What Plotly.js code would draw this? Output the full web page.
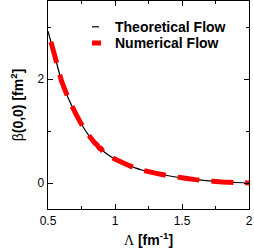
<!DOCTYPE html>
<html>
<head>
<meta charset="utf-8">
<script src="https://cdn.plot.ly/plotly-3.0.1.min.js"></script>
<style>html,body{margin:0;padding:0;background:#fff;}#plot{width:254px;height:251px;}</style>
</head>
<body>
<div id="plot"></div>
<script>
// Theoretical flow: beta(0,0) vs Lambda
var lambdaTheory = [0.5, 0.55, 0.6, 0.65, 0.7, 0.75, 0.8, 0.85, 0.9, 0.95, 1.0, 1.05, 1.1, 1.15, 1.2, 1.3, 1.4, 1.5, 1.6, 1.7, 1.8, 1.9, 2.0];
var betaTheory   = [2.92, 2.45, 1.97, 1.64, 1.37, 1.13, 0.93, 0.77, 0.64, 0.54, 0.46, 0.40, 0.34, 0.29, 0.25, 0.19, 0.14, 0.10, 0.065, 0.04, 0.02, 0.01, 0.0];
// Numerical flow (with small wiggle near 0.88)
var lambdaNum = [0.5, 0.55, 0.6, 0.65, 0.7, 0.75, 0.8, 0.85, 0.87, 0.885, 0.895, 0.91, 0.95, 1.0, 1.05, 1.1, 1.15, 1.2, 1.3, 1.4, 1.5, 1.6, 1.7, 1.8, 1.9, 2.0];
var betaNum   = [2.92, 2.45, 1.97, 1.64, 1.37, 1.13, 0.93, 0.77, 0.72, 0.66, 0.67, 0.60, 0.54, 0.46, 0.40, 0.34, 0.29, 0.25, 0.19, 0.14, 0.10, 0.065, 0.04, 0.02, 0.01, 0.0];
var legendLabels = ["Theoretical Flow", "Numerical Flow"];
var xTicks = [0.5, 1, 1.5, 2];
var xTickText = ["0.5", "1", "1.5", "2"];
var yTicks = [0, 2];
var yTickText = ["0", "2"];

var font = "Liberation Sans, Arial, Helvetica, sans-serif";

var traces = [
  {x: lambdaTheory, y: betaTheory, mode: "lines", name: legendLabels[0],
   line: {color: "#000000", width: 1.2, shape: "spline", smoothing: 0.6}, showlegend: false, hoverinfo: "skip"},
  {x: lambdaNum, y: betaNum, mode: "lines", name: legendLabels[1],
   line: {color: "#ff0000", width: 5, dash: "0px,11px,22px,1px", shape: "spline", smoothing: 0.4}, showlegend: false, hoverinfo: "skip"}
];

var axisCommon = {
  showgrid: false, zeroline: false, showline: true, linecolor: "#000", linewidth: 1.3,
  mirror: "allticks", ticks: "inside", ticklen: 5, tickwidth: 1, tickcolor: "#000",
  tickfont: {family: font, size: 12, color: "#000"},
  minor: {ticks: "inside", ticklen: 3, tickwidth: 1, tickcolor: "#000"}
};

var layout = {
  width: 254, height: 251,
  margin: {l: 48, r: 5, t: 1, b: 42},
  paper_bgcolor: "#fff", plot_bgcolor: "#fff",
  showlegend: false,
  xaxis: Object.assign({}, axisCommon, {
    range: [0.5, 2], tickvals: xTicks, ticktext: xTickText,
    minor: {ticks: "inside", ticklen: 3, tickwidth: 1, tickcolor: "#000", dtick: 0.25, tick0: 0.5},
    title: {text: "<span style='font-family:Liberation Serif'>Λ</span> <b>[fm<sup>-1</sup>]</b>",
            font: {family: font, size: 14, color: "#000"}, standoff: 8}
  }),
  yaxis: Object.assign({}, axisCommon, {
    range: [-0.5, 3.5], tickvals: yTicks, ticktext: yTickText,
    minor: {ticks: "inside", ticklen: 3, tickwidth: 1, tickcolor: "#000", dtick: 1, tick0: 0},
    title: {text: "β<b>(0,0) [fm<sup>2</sup>]</b>",
            font: {family: font, size: 14, color: "#000"}, standoff: 10}
  }),
  annotations: [
    {xref: "paper", yref: "paper", x: 0.323, y: 0.876, xanchor: "left", yanchor: "middle",
     text: "<b>" + legendLabels[0] + "</b>", showarrow: false, font: {family: font, size: 14, color: "#000"}},
    {xref: "paper", yref: "paper", x: 0.323, y: 0.798, xanchor: "left", yanchor: "middle",
     text: "<b>" + legendLabels[1] + "</b>", showarrow: false, font: {family: font, size: 14, color: "#000"}}
  ],
  shapes: [
    {type: "line", xref: "paper", yref: "paper", x0: 0.219, x1: 0.254, y0: 0.876, y1: 0.876,
     line: {color: "#000", width: 1.2}},
    {type: "line", xref: "paper", yref: "paper", x0: 0.219, x1: 0.264, y0: 0.798, y1: 0.798,
     line: {color: "#ff0000", width: 5}}
  ]
};

Plotly.newPlot("plot", traces, layout, {staticPlot: true, displayModeBar: false});
</script>
</body>
</html>
